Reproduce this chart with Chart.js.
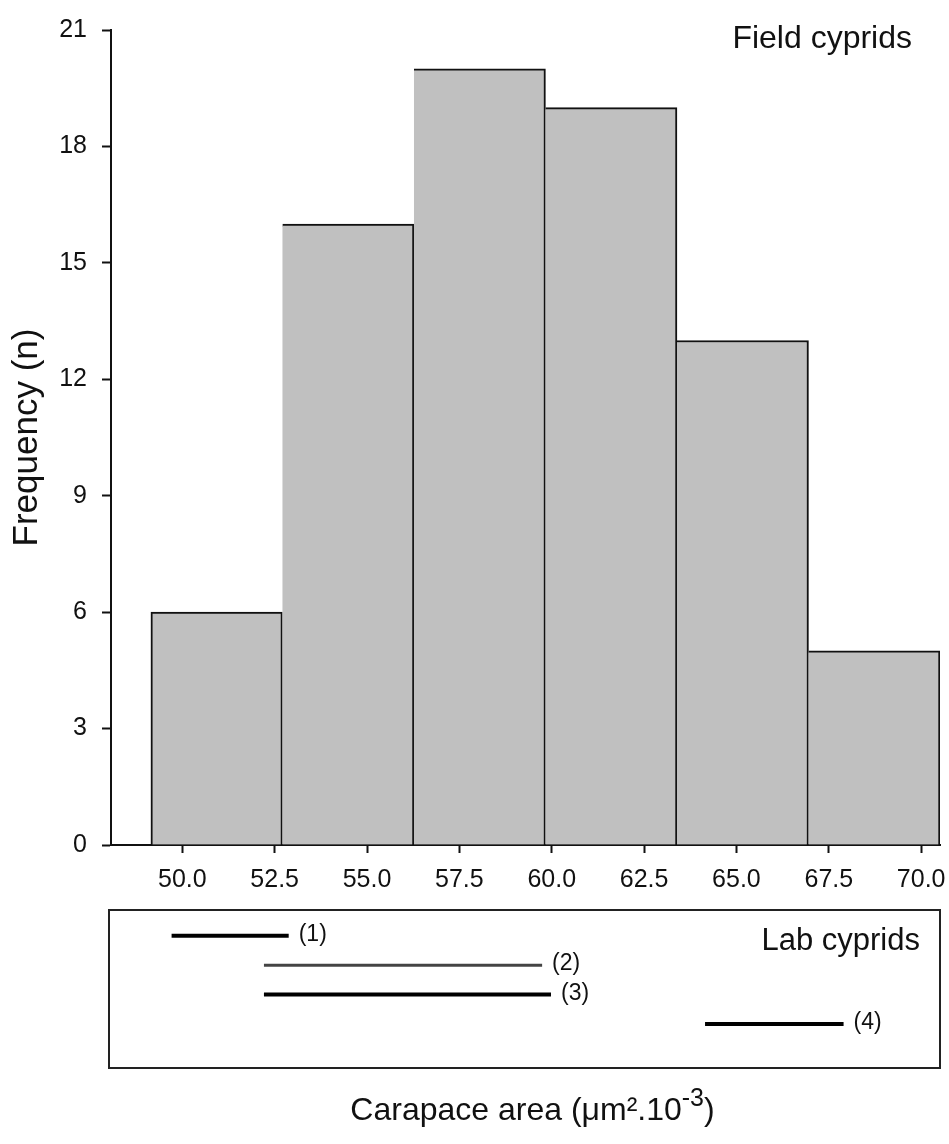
<!DOCTYPE html>
<html>
<head>
<meta charset="utf-8">
<script src="https://cdn.jsdelivr.net/npm/chart.js@4.4.1/dist/chart.umd.min.js"></script>
<style>
  body { margin: 0; background: #fff; }
  #wrap { position: relative; width: 949px; height: 1144px; }
  #mainChart { position: absolute; left: 0; top: 0; }
  #labChart { position: absolute; left: 0; top: 900px; }
</style>
</head>
<body>
<div id="wrap">
  <canvas id="mainChart" width="949" height="900"></canvas>
  <canvas id="labChart" width="949" height="244"></canvas>
</div>
<script>
// histogram of field cyprids
const binEdges = [49.15, 52.71, 56.27, 59.83, 63.39, 66.95, 70.51];
const frequency = [6, 16, 20, 19, 13, 5];
const xTicks = [50, 52.5, 55, 57.5, 60, 62.5, 65, 67.5, 70];
const yTicks = [0, 3, 6, 9, 12, 15, 18, 21];

// lab cyprid ranges
const labNames = ['(1)', '(2)', '(3)', '(4)'];
const labStart = [49.71, 52.21, 52.21, 64.15];
const labEnd = [52.88, 59.74, 59.98, 67.90];
const labRow = [1, 2, 3, 4];

const FONT = "'Liberation Sans', Arial, sans-serif";
const xMin = 48.07;
const xMax = 70.51;

Chart.defaults.font.family = FONT;
Chart.defaults.color = '#111';

const barData = frequency.map((f, i) => ({ x: (binEdges[i] + binEdges[i + 1]) / 2, y: f }));

const fieldLabel = {
    id: 'fieldLabel',
    afterDraw(chart) {
        const ctx = chart.ctx;
        ctx.save();
        ctx.font = '32px ' + FONT;
        ctx.fillStyle = '#111';
        ctx.textAlign = 'right';
        ctx.textBaseline = 'alphabetic';
        ctx.fillText('Field cyprids', chart.chartArea.right - 28, 48);
        ctx.restore();
    }
};

new Chart(document.getElementById('mainChart'), {
    type: 'bar',
    data: {
        datasets: [{
            data: barData,
            backgroundColor: '#c0c0c0',
            borderColor: '#111',
            borderWidth: ctx => ({ top: 2, right: 2, bottom: 0, left: ctx.dataIndex === 0 ? 2 : 0 }),
            borderSkipped: false,
            barThickness: 'flex',
            barPercentage: 1,
            categoryPercentage: 1
        }]
    },
    options: {
        responsive: false,
        animation: false,
        layout: { padding: { top: 22, right: 9, left: 0, bottom: 0 } },
        plugins: { legend: { display: false }, tooltip: { enabled: false } },
        scales: {
            x: {
                type: 'linear',
                min: xMin,
                max: xMax,
                offset: false,
                z: 1,
                afterBuildTicks: scale => { scale.ticks = xTicks.map(v => ({ value: v })); },
                afterFit: scale => {
                    scale.height = 55;
                    scale.paddingLeft = 0;
                    scale.paddingRight = 0;
                },
                grid: { offset: false, drawOnChartArea: false, drawTicks: true, tickLength: 8, tickWidth: 2, tickColor: '#111' },
                border: { display: true, color: '#111', width: 2 },
                ticks: {
                    font: { size: 25 },
                    padding: 12,
                    maxRotation: 0,
                    autoSkip: false,
                    callback: v => Number(v).toFixed(1)
                }
            },
            y: {
                min: 0,
                max: 21,
                z: 1,
                afterBuildTicks: scale => { scale.ticks = yTicks.map(v => ({ value: v })); },
                afterFit: scale => { scale.width = 111; },
                grid: { drawOnChartArea: false, drawTicks: true, tickLength: 9, tickWidth: 2, tickColor: '#111' },
                border: { display: true, color: '#111', width: 2 },
                ticks: { font: { size: 25 }, padding: 15 },
                title: { display: true, text: 'Frequency (n)', font: { size: 35 }, color: '#111', padding: { top: 6, bottom: 0 } }
            }
        }
    },
    plugins: [fieldLabel]
});

// box, numbers and axis title for the lab panel
const labDecor = {
    id: 'labDecor',
    beforeDatasetsDraw(chart) {
        const { ctx, chartArea: a } = chart;
        ctx.save();
        ctx.strokeStyle = '#222';
        ctx.lineWidth = 2;
        ctx.strokeRect(a.left - 2, a.top, a.right - a.left + 2, a.bottom - a.top);
        ctx.restore();
    },
    afterDatasetsDraw(chart) {
        const { ctx, chartArea: a } = chart;
        ctx.save();
        ctx.fillStyle = '#111';
        ctx.font = '23px ' + FONT;
        ctx.textAlign = 'left';
        ctx.textBaseline = 'middle';
        chart.data.datasets.forEach((ds, i) => {
            const p = chart.getDatasetMeta(i).data[1];
            ctx.fillText(labNames[i], p.x + 10, p.y - 1);
        });
        ctx.font = '31px ' + FONT;
        ctx.textAlign = 'right';
        ctx.textBaseline = 'alphabetic';
        ctx.fillText('Lab cyprids', a.right - 20, 50);

        // x axis title with superscript
        const main = 'Carapace area (\u03bcm\u00b2.10';
        const sup = '-3';
        const tail = ')';
        ctx.font = '32px ' + FONT;
        const wMain = ctx.measureText(main).width;
        const wTail = ctx.measureText(tail).width;
        ctx.font = '25px ' + FONT;
        const wSup = ctx.measureText(sup).width;
        const total = wMain + wSup + wTail;
        let x = (a.left + a.right) / 2 + 7 - total / 2;
        const base = 220;
        ctx.textAlign = 'left';
        ctx.font = '32px ' + FONT;
        ctx.fillText(main, x, base);
        x += wMain;
        ctx.font = '25px ' + FONT;
        ctx.fillText(sup, x, base - 14);
        x += wSup;
        ctx.font = '32px ' + FONT;
        ctx.fillText(tail, x, base);
        ctx.restore();
    }
};

new Chart(document.getElementById('labChart'), {
    type: 'scatter',
    data: {
        datasets: labNames.map((n, i) => ({
            label: n,
            data: [{ x: labStart[i], y: labRow[i] }, { x: labEnd[i], y: labRow[i] }],
            showLine: true,
            pointRadius: 0,
            borderColor: i === 1 ? '#444' : '#000',
            borderWidth: i === 1 ? 3 : 4,
            borderCapStyle: 'butt'
        }))
    },
    options: {
        responsive: false,
        animation: false,
        layout: { padding: { top: 10, right: 9, left: 111, bottom: 76 } },
        plugins: { legend: { display: false }, tooltip: { enabled: false } },
        scales: {
            x: { type: 'linear', min: xMin, max: xMax, display: false },
            y: { type: 'linear', min: 0.127, max: 5.495, reverse: true, display: false }
        }
    },
    plugins: [labDecor]
});
</script>
</body>
</html>
